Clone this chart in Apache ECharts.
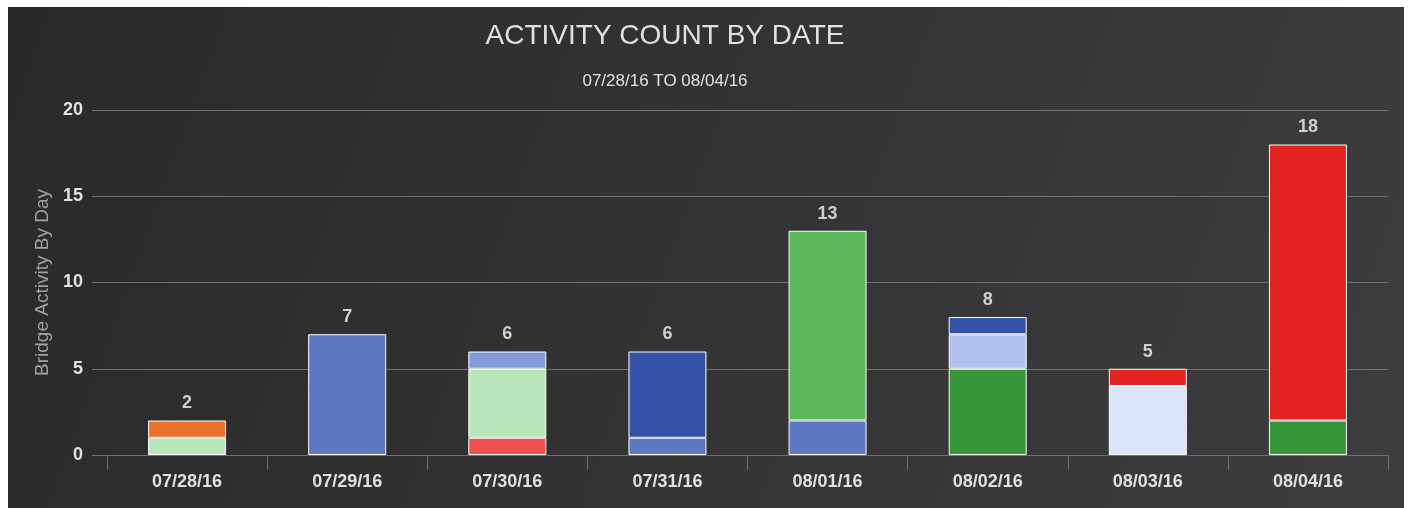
<!DOCTYPE html>
<html>
<head>
<meta charset="utf-8">
<script src="https://cdn.jsdelivr.net/npm/echarts@6/dist/echarts.min.js"></script>
<style>
html, body { margin: 0; padding: 0; background: #fff; }
#chart { position: absolute; left: 8px; top: 7px; width: 1396px; height: 501px; }
</style>
</head>
<body>
<div id="chart"></div>
<script>
var dates = ['07/28/16', '07/29/16', '07/30/16', '07/31/16', '08/01/16', '08/02/16', '08/03/16', '08/04/16'];
var totals = [2, 7, 6, 6, 13, 8, 5, 18];
var yTicks = [0, 5, 10, 15, 20];

// stacked segments, bottom to top
var coralRed   = ['-', '-', 1, '-', '-', '-', '-', '-'];
var midBlue    = ['-', 7, '-', 1, 2, '-', '-', '-'];
var darkGreen  = ['-', '-', '-', '-', '-', 5, '-', 2];
var paleBlue   = ['-', '-', '-', '-', '-', '-', 4, '-'];
var mintGreen  = [1, '-', 4, '-', '-', '-', '-', '-'];
var orange     = [1, '-', '-', '-', '-', '-', '-', '-'];
var periwinkle = ['-', '-', 1, '-', '-', '-', '-', '-'];
var skyBlue    = ['-', '-', '-', '-', '-', 2, '-', '-'];
var royalBlue  = ['-', '-', '-', 5, '-', 1, '-', '-'];
var green      = ['-', '-', '-', '-', 11, '-', '-', '-'];
var red        = ['-', '-', '-', '-', '-', '-', 1, 16];
var topPad     = [0, 0, 0, 0, 0, 0, 0, 0];

var font = "'Liberation Sans', Arial, Helvetica, sans-serif";

function seg(name, data, color) {
	return {
		name: name,
		type: 'bar',
		stack: 'day',
		xAxisIndex: 1,
		yAxisIndex: 1,
		barWidth: 78,
		data: data,
		itemStyle: { color: color, borderColor: '#ffffff', borderWidth: 1 }
	};
}

var myChart = echarts.init(document.getElementById('chart'));
var opt = {
	backgroundColor: {
		type: 'linear', x: 0, y: 0, x2: 1, y2: 1,
		colorStops: [{ offset: 0, color: '#29292a' }, { offset: 1, color: '#3d3d3f' }]
	},
	animation: false,
	title: {
		text: 'ACTIVITY COUNT BY DATE',
		subtext: '07/28/16 TO 08/04/16',
		left: 652,
		top: 10,
		textAlign: 'center',
		itemGap: 23,
		textStyle: { color: '#e0e0e3', fontSize: 28, fontWeight: 'normal', fontFamily: font },
		subtextStyle: { color: '#e0e0e3', fontSize: 17, fontFamily: font }
	},
	grid: [
		{ left: 84, right: 16, top: 103, bottom: 53 },
		{ left: 99, right: 16, top: 103, bottom: 53 }
	],
	xAxis: [
		{ gridIndex: 0, type: 'category', data: dates, show: false },
		{
			gridIndex: 1,
			type: 'category',
			data: dates,
			axisLine: { show: false },
			axisTick: { show: true, length: 15, lineStyle: { color: '#707073' } },
			axisLabel: { color: '#e0e0e3', fontSize: 18, fontWeight: 'bold', fontFamily: font, margin: 18 }
		}
	],
	yAxis: [
		{
			gridIndex: 0,
			type: 'value',
			min: yTicks[0],
			max: yTicks[yTicks.length - 1],
			interval: 5,
			name: 'Bridge Activity By Day',
			nameLocation: 'middle',
			nameGap: 36,
			nameTextStyle: { color: '#a0a0a3', fontSize: 19, fontFamily: font },
			axisLine: { show: false },
			axisTick: { show: false },
			splitLine: { lineStyle: { color: '#707073', width: 1 } },
			axisLabel: { color: '#e0e0e3', fontSize: 18, fontWeight: 'bold', fontFamily: font, margin: 9 }
		},
		{
			gridIndex: 1,
			type: 'value',
			min: 0,
			max: 20,
			interval: 5,
			show: false
		}
	],
	series: [
		seg('Type 1', coralRed, '#f05050'),
		seg('Type 2', midBlue, '#5b78c0'),
		seg('Type 3', darkGreen, '#38963a'),
		seg('Type 4', paleBlue, '#dce4f8'),
		seg('Type 5', mintGreen, '#b9e7b9'),
		seg('Type 6', orange, '#e8722e'),
		seg('Type 7', periwinkle, '#859cdb'),
		seg('Type 8', skyBlue, '#b0c2ef'),
		seg('Type 9', royalBlue, '#3553a8'),
		seg('Type 10', green, '#5bb85d'),
		seg('Type 11', red, '#e3231f'),
		{
			name: 'Total',
			type: 'bar',
			stack: 'day',
			xAxisIndex: 1,
			yAxisIndex: 1,
			barWidth: 78,
			data: topPad,
			itemStyle: { color: 'rgba(0,0,0,0)', borderWidth: 0 },
			label: {
				show: true,
				position: 'top',
				distance: 8,
				color: '#cfcfcf',
				fontSize: 18,
				fontWeight: 'bold',
				fontFamily: font,
				formatter: function (p) { return totals[p.dataIndex]; }
			}
		}
	]
};
myChart.setOption(opt);
</script>
</body>
</html>
